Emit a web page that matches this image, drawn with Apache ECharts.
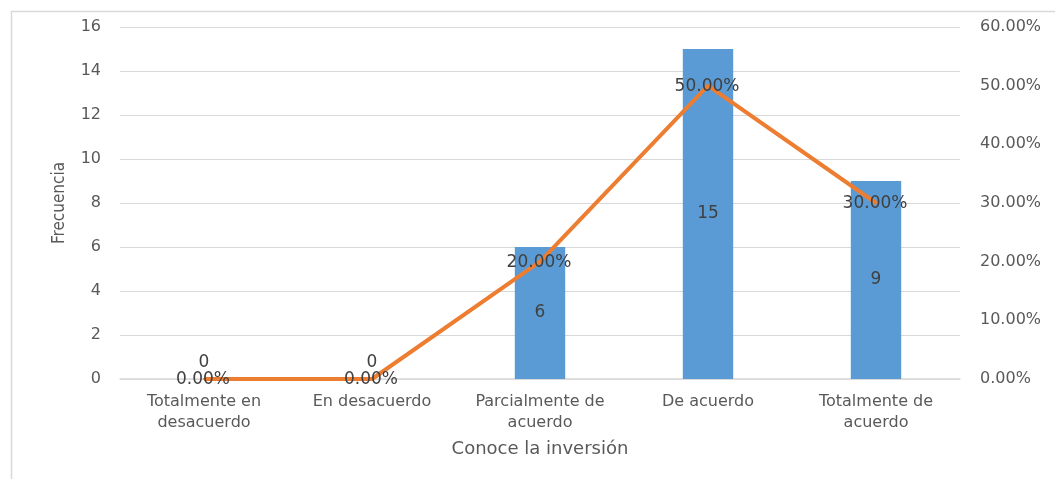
<!DOCTYPE html>
<html>
<head>
<meta charset="utf-8">
<script src="https://cdn.jsdelivr.net/npm/echarts@6/dist/echarts.min.js"></script>
<style>
  html, body { margin: 0; padding: 0; background: #fff; }
  #chart { width: 1055px; height: 479px; }
</style>
</head>
<body>
<div id="chart"></div>
<script>
const categories = ['Totalmente en\ndesacuerdo', 'En desacuerdo', 'Parcialmente de\nacuerdo', 'De acuerdo', 'Totalmente de\nacuerdo'];
const frecuencia = [0, 0, 6, 15, 9];
const porcentaje = [0, 0, 20, 50, 30];

const labelFont = '"DejaVu Sans", "Open Sans", sans-serif';
const textColor = '#595959';

const chart = echarts.init(document.getElementById('chart'));

const option = {
  animation: false,
  textStyle: { fontFamily: labelFont },
  graphic: [
    { type: 'line', shape: { x1: 11, y1: 11.5, x2: 1055, y2: 11.5 }, style: { stroke: '#d9d9d9', lineWidth: 1.5 } },
    { type: 'line', shape: { x1: 11.5, y1: 11, x2: 11.5, y2: 479 }, style: { stroke: '#d9d9d9', lineWidth: 1.5 } },
    {
      type: 'text', x: 60, y: 203, rotation: Math.PI / 2,
      style: {
        text: 'Frecuencia', fill: textColor, fontSize: 17,
        fontFamily: '"Liberation Sans Narrow", "DejaVu Sans Condensed", sans-serif',
        align: 'center', verticalAlign: 'middle'
      }
    }
  ],
  grid: { left: 120, right: 95, top: 27, bottom: 100 },
  xAxis: {
    type: 'category',
    data: categories,
    name: 'Conoce la inversión',
    nameLocation: 'middle',
    nameGap: 61,
    nameTextStyle: { color: textColor, fontSize: 18, fontFamily: labelFont },
    axisLine: { lineStyle: { color: '#d9d9d9', width: 1.5 } },
    axisTick: { show: false },
    axisLabel: { color: textColor, fontSize: 16, lineHeight: 21, margin: 12, interval: 0, fontFamily: labelFont }
  },
  yAxis: [
    {
      type: 'value', min: 0, max: 16, interval: 2,
      axisLine: { show: false }, axisTick: { show: false },
      splitLine: { lineStyle: { color: '#d9d9d9' } },
      axisLabel: { color: textColor, fontSize: 16, margin: 19, fontFamily: labelFont }
    },
    {
      type: 'value', min: 0, max: 60, interval: 10,
      axisLine: { show: false }, axisTick: { show: false },
      splitLine: { show: false },
      axisLabel: {
        color: textColor, fontSize: 16, margin: 20, fontFamily: labelFont,
        formatter: v => v.toFixed(2) + '%'
      }
    }
  ],
  series: [
    {
      name: 'Frecuencia',
      type: 'bar',
      barWidth: '30%',
      itemStyle: { color: '#5b9bd5' },
      data: frecuencia.map(v => v === 0
        ? { value: v, label: { position: 'top', distance: 8 } }
        : v),
      label: {
        show: true, position: 'inside', color: '#404040', fontSize: 17, fontFamily: labelFont
      },
      z: 2
    },
    {
      name: 'Porcentaje',
      type: 'line',
      yAxisIndex: 1,
      data: porcentaje,
      symbol: 'circle',
      symbolSize: 2,
      lineStyle: { color: '#ed7d31', width: 4 },
      itemStyle: { color: '#ed7d31' },
      label: {
        show: true, position: [0, 0], offset: [0, 2], align: 'center', verticalAlign: 'middle',
        color: '#404040', fontSize: 17, fontFamily: labelFont,
        formatter: p => p.value.toFixed(2) + '%'
      },
      z: 3
    }
  ]
};

chart.setOption(option);
window.addEventListener('resize', () => chart.resize());
</script>
</body>
</html>
